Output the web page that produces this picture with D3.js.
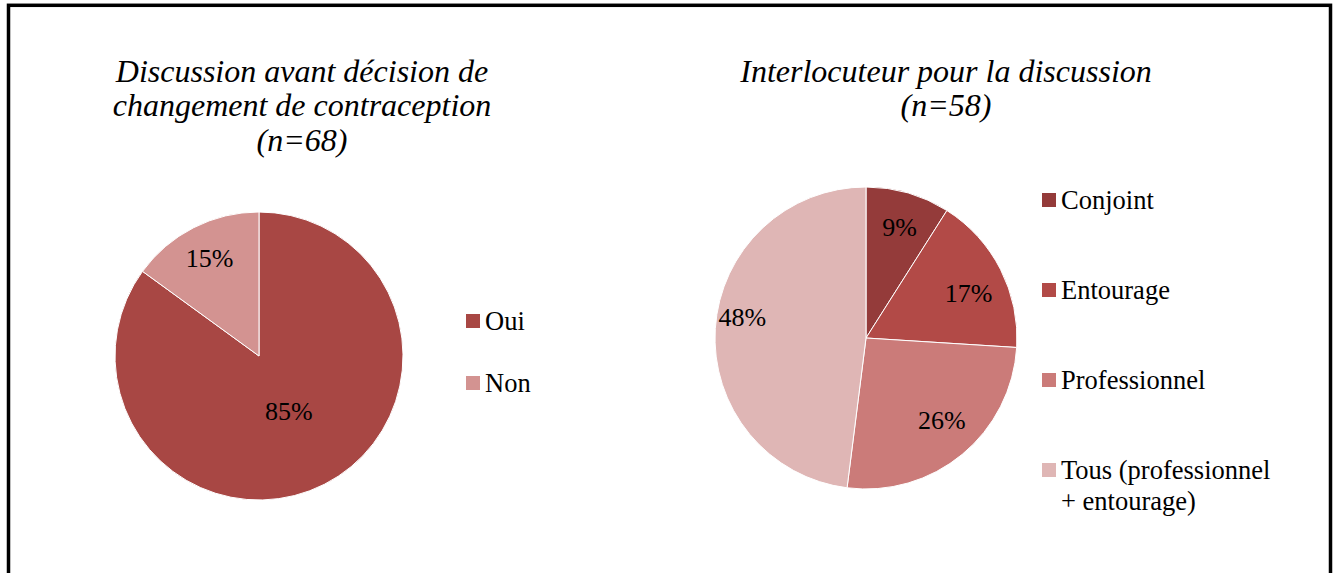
<!DOCTYPE html>
<html>
<head>
<meta charset="utf-8">
<script src="https://cdn.jsdelivr.net/npm/d3@7"></script>
</head>
<body style="margin:0;background:#fff">
<svg id="chart" width="1335" height="573" style="display:block"></svg>
<script>
// ---- Data ----
const pie1Title = ["Discussion avant décision de", "changement de contraception", "(n=68)"];
const pie1Categories = ["Oui", "Non"];
const pie1Values = [85, 15];
const pie1Colors = ["#A84744", "#D39391"];
// label placement (radius fraction, angular shift in degrees) — style only
const pie1LabelRadius = [0.44, 0.757];
const pie1LabelShift = [-1.2, 0];

const pie2Title = ["Interlocuteur pour la discussion", "(n=58)"];
const pie2Categories = ["Conjoint", "Entourage", "Professionnel", "Tous (professionnel|+ entourage)"];
const pie2Values = [9, 17, 26, 48];
const pie2Colors = ["#943B3A", "#B24A47", "#CB7B79", "#DFB6B5"];
const pie2LabelRadius = [0.765, 0.74, 0.74, 0.83];
const pie2LabelShift = [0.7, 3.7, -3.2, 6];

const FONT = "Liberation Serif";
const svg = d3.select("#chart");

// frame
svg.append("rect")
  .attr("x", 8.5).attr("y", 5.3)
  .attr("width", 1322).attr("height", 620)
  .attr("fill", "none").attr("stroke", "#000").attr("stroke-width", 3.5);

function drawTitle(lines, cx, y0, lh) {
  const t = svg.append("text")
    .style("font-family", FONT)
    .style("font-style", "italic")
    .attr("text-anchor", "middle")
    .attr("font-size", 32)
    .attr("fill", "#000");
  lines.forEach((l, i) => {
    t.append("tspan").attr("x", cx).attr("y", y0 + i * lh).text(l);
  });
}

function drawPie(values, colors, labelR, labelShift, cx, cy, r) {
  const pie = d3.pie().sort(null).value(d => d);
  const arcs = pie(values);
  const arc = d3.arc().innerRadius(0).outerRadius(r);
  const g = svg.append("g").attr("transform", `translate(${cx},${cy})`);
  g.selectAll("path").data(arcs).join("path")
    .attr("d", arc)
    .attr("fill", (d, i) => colors[i])
    .attr("stroke", "#fff")
    .attr("stroke-width", 1);
  g.selectAll("text").data(arcs).join("text")
    .style("font-family", FONT)
    .attr("transform", (d, i) => {
      const shift = labelShift[i] * Math.PI / 180;
      const la = d3.arc().innerRadius(r * labelR[i]).outerRadius(r * labelR[i]);
      const p = la.centroid({startAngle: d.startAngle + shift, endAngle: d.endAngle + shift});
      return `translate(${p})`;
    })
    .attr("text-anchor", "middle")
    .attr("dy", "0.33em")
    .attr("font-size", 26)
    .attr("fill", "#000")
    .text(d => d.value + "%");
}

function drawLegend(cats, colors, x, ys) {
  const g = svg.append("g");
  cats.forEach((c, i) => {
    g.append("rect")
      .attr("x", x).attr("y", ys[i] - 16)
      .attr("width", 14).attr("height", 14)
      .attr("fill", colors[i]);
    const t = g.append("text")
      .style("font-family", FONT)
      .attr("font-size", 26.5)
      .attr("fill", "#000");
    c.split("|").forEach((part, j) => {
      t.append("tspan").attr("x", x + 19).attr("y", ys[i] + j * 31).text(part);
    });
  });
}

drawTitle(pie1Title, 302, 81.5, 34.5);
drawTitle(pie2Title, 946, 81.5, 34.5);

drawPie(pie1Values, pie1Colors, pie1LabelRadius, pie1LabelShift, 259, 356, 144);
drawPie(pie2Values, pie2Colors, pie2LabelRadius, pie2LabelShift, 866, 338, 151);

drawLegend(pie1Categories, pie1Colors, 466, [330, 392]);
drawLegend(pie2Categories, pie2Colors, 1042, [209, 299, 389, 479]);
</script>
</body>
</html>
